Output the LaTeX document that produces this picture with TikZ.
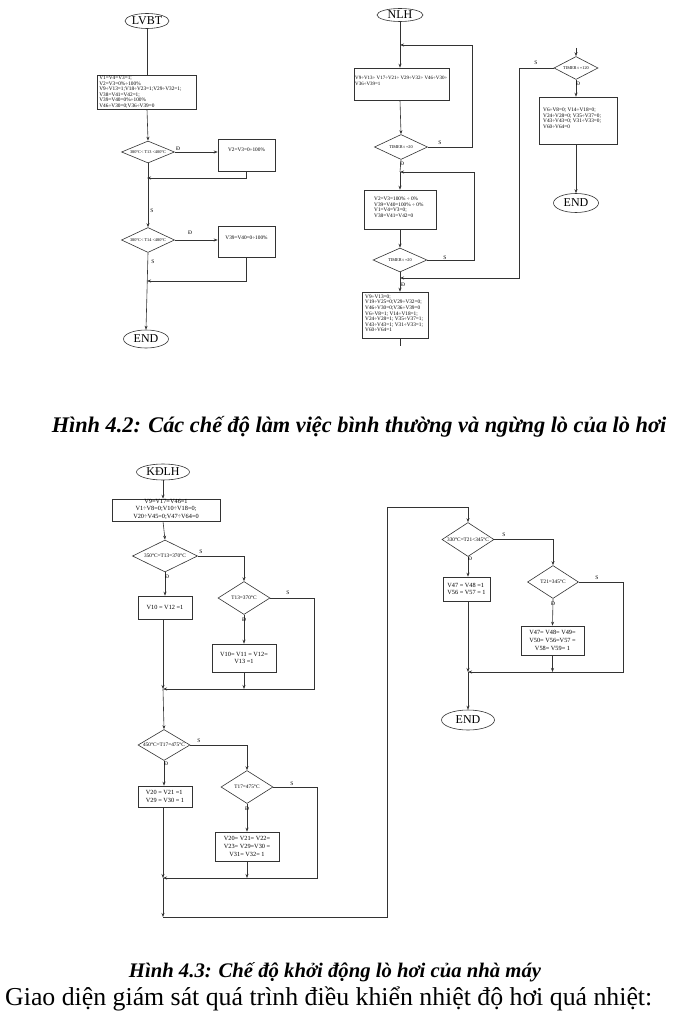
\documentclass[tikz,border=0pt]{standalone}
\usepackage{fontspec}
\setmainfont{Liberation Serif}
\usetikzlibrary{shapes.geometric,arrows.meta,calc}
\begin{document}
\begin{tikzpicture}[x=1pt,y=-1pt,
  ln/.style={draw=black!80,line width=0.6pt},
  arr/.style={ln,-{Stealth[length=4pt,width=3pt]}},
  box/.style={draw=black!80,line width=0.6pt,rectangle,inner sep=0pt},
  dia/.style={draw=black!80,line width=0.6pt,diamond,inner sep=0pt},
  term/.style={draw=black!80,line width=0.6pt,ellipse,inner sep=0pt,font=\fontsize{12}{12}\selectfont},
  tiny/.style={inner sep=0pt,font=\fontsize{5.3}{5.6}\selectfont,align=left},
  dtxt/.style={inner sep=0pt,font=\fontsize{4.3}{4.3}\selectfont},
  small/.style={inner sep=0pt,font=\fontsize{6.3}{7.6}\selectfont,align=center},
  smallL/.style={inner sep=0pt,font=\fontsize{6.3}{7.6}\selectfont,align=left},
  kdtxt/.style={inner sep=0pt,font=\fontsize{5.3}{5.3}\selectfont},
  lab/.style={inner sep=0pt,font=\fontsize{5.5}{5.5}\selectfont},
  captxt/.style={inner sep=0pt,font=\bfseries\itshape},
]
\fill[white] (0,0) rectangle (680,1016);
\useasboundingbox (0,0) rectangle (680,1016);

%================ LVBT =================
\node[term,minimum width=44pt,minimum height=15pt] (lvbt) at (147,21) {LVBT};
\node[box,minimum width=99pt,minimum height=34pt] (lb1) at (146.5,92) {};
\node[tiny,anchor=north west] (lb1t) at ($(lb1.north west)+(2.5,1)$) {V1=V4=V3=1;\\V2=V3=0\%÷100\%\\V9÷V13=1;V18÷V23=1;V29÷V32=1;\\V38=V41=V42=1;\\V39=V40=0\%÷100\%\\V46÷V30=0;V36÷V39=0};
\node[dia,minimum width=53pt,minimum height=22pt] (ld1) at (148,152) {};
\node[dtxt] (ld1t) at (ld1) {380°C< T13 <400°C};
\node[box,minimum width=57pt,minimum height=32pt] (lb2) at (246.5,155) {};
\node[tiny] (lb2t) at (246.5,150) {V2=V3=0÷100\%};
\coordinate (lj1) at (147,178);
\node[dia,minimum width=53pt,minimum height=25pt] (ld2) at (148,240) {};
\node[dtxt] (ld2t) at (ld2) {380°C< T14 <480°C};
\node[box,minimum width=57pt,minimum height=31pt] (lb3) at (246.5,241.5) {};
\node[tiny] (lb3t) at (246.5,238) {V39=V40=0÷100\%};
\coordinate (lj2) at (147,281);
\node[term,minimum width=45pt,minimum height=18pt] (lend) at (146,339) {END};

\draw[ln] (lvbt.south) -- (lvbt.south |- lb1.north);
\draw[arr] (lvbt.south |- lb1.south) -- (ld1.north);
\draw[arr] (ld1.east) -- (lb2.west |- ld1.east);
\draw[arr] (lb2.south) -- (lb2.south |- lj1) -- (lj1);
\draw[arr] (ld1.south) -- (ld2.north);
\draw[arr] (ld2.east) -- (lb3.west |- ld2.east);
\draw[arr] (lb3.south) -- (lb3.south |- lj2) -- (lj2);
\draw[arr] (ld2.south) -- (lend.north);
\node[lab] at (178,149) {Đ};
\node[lab] at (152,211) {S};
\node[lab] at (190,233) {Đ};
\node[lab] at (153,262) {S};

%================ NLH =================
\node[term,minimum width=46pt,minimum height=13pt] (nlh) at (400,15) {NLH};
\coordinate (nj1) at (400,45);
\node[box,minimum width=95pt,minimum height=32pt] (nb1) at (401.5,84) {};
\node[tiny,anchor=north west,font=\fontsize{5}{5.6}\selectfont] (nb1t) at (355,76) {V9÷V13÷ V17÷V21÷ V29÷V32÷ V46÷V30÷\\V36÷V39=1};
\node[dia,minimum width=53pt,minimum height=25pt] (nd1) at (401,147) {};
\node[dtxt] (nd1t) at (nd1) {TIMER t =20};
\coordinate (nj2) at (400,172);
\node[box,minimum width=72pt,minimum height=39pt] (nb2) at (400,209.5) {};
\node[tiny,anchor=north west] (nb2t) at (374,197) {V2=V3=100\% ÷ 0\%\\V39=V40=100\% ÷ 0\%\\V1=V4=V3=0;\\V38=V41=V42=0};
\node[dia,minimum width=54pt,minimum height=24pt] (nd2) at (400,260) {};
\node[dtxt] (nd2t) at (nd2) {TIMER t =20};
\coordinate (nj3) at (400,278);
\node[box,minimum width=66pt,minimum height=46pt] (nb3) at (395,315) {};
\node[tiny,anchor=north west] (nb3t) at (365,294.5) {V9÷V13=0;\\V19÷V25=0;V29÷V32=0;\\V46÷V30=0;V36÷V39=0\\V6÷V8=1; V14÷V18=1;\\V24÷V28=1; V35÷V37=1;\\V43÷V43=1; V31÷V33=1;\\V60÷V64=1};
\coordinate (nbot) at (400,346);

\node[dia,minimum width=44pt,minimum height=23pt] (nd3) at (576,68) {};
\node[dtxt] (nd3t) at (nd3) {TIMER t =120};
\coordinate (ntop) at (576,48);
\node[box,minimum width=78pt,minimum height=47pt] (nb4) at (578,120.5) {};
\node[tiny,anchor=north west] (nb4t) at (543,108) {V6÷V8=0; V14÷V18=0;\\V24÷V28=0; V35÷V37=0;\\V43÷V43=0; V31÷V33=0;\\V60÷V64=0};
\node[term,minimum width=45pt,minimum height=19pt] (nend) at (576,203) {END};

\draw[ln] (nlh.south) -- (nj1);
\draw[arr] (nj1) -- (nj1 |- nb1.north);
\draw[arr] (nj1 |- nb1.south) -- (nd1.north);
\draw[arr] (nd1.east) -- (472,147) -- (472,45) -- (nj1);
\draw[ln] (nd1.south) -- (nj2);
\draw[arr] (nj2) -- (nj2 |- nb2.north);
\draw[arr] (nb2.south) -- (nd2.north);
\draw[arr] (nd2.east) -- (474,260) -- (474,172) -- (nj2);
\draw[ln] (nd2.south) -- (nj3);
\draw[arr] (nj3) -- (nj3 |- nb3.north);
\draw[ln] (nj3 |- nb3.south) -- (nbot);
\draw[arr] (ntop) -- (nd3.north);
\draw[arr] (nd3.south) -- (nd3.south |- nb4.north);
\draw[arr] (nd3.south |- nb4.south) -- (nend.north);
\draw[arr] (nd3.west) -- (519,68) -- (519,278) -- (nj3);
\node[lab] at (440,143) {S};
\node[lab] at (402,164) {Đ};
\node[lab] at (445,258) {S};
\node[lab] at (403,285) {Đ};
\node[lab] at (536,63) {S};
\node[lab] at (578,84) {Đ};

%================ captions =================
\node[captxt,font=\fontsize{22.3}{22.3}\selectfont\bfseries\itshape] (cap1) at (359,427) {Hình 4.2: Các chế độ làm việc bình thường và ngừng lò của lò hơi};

%================ KĐLH =================
\node[term,minimum width=53pt,minimum height=16pt] (kdlh) at (163,472) {KĐLH};
\node[box,minimum width=108pt,minimum height=22pt] (kb1) at (166,510) {};
\node[small] (kb1t) at (166,509) {V9=V17=V46=1\\V1÷V8=0;V10÷V18=0;\\V20÷V45=0;V47÷V64=0};
\node[dia,minimum width=65pt,minimum height=32pt] (kd1) at (165,556) {};
\node[kdtxt] (kd1t) at (kd1) {350°C=T13=370°C};
\node[box,minimum width=54pt,minimum height=23pt] (kb2) at (165,607.5) {};
\node[small] (kb2t) at (kb2) {V10 = V12 =1};
\node[dia,minimum width=52pt,minimum height=33pt] (kd2) at (244,598) {};
\node[kdtxt] (kd2t) at (kd2) {T13=370°C};
\node[box,minimum width=64pt,minimum height=28pt] (kb3) at (244,658) {};
\node[small] (kb3t) at (kb3) {V10= V11 = V12=\\V13 =1};
\coordinate (kj1) at (163,689);
\node[dia,minimum width=52pt,minimum height=31pt] (kd3) at (164,745) {};
\node[kdtxt] (kd3t) at (kd3) {450°C=T17=475°C};
\node[box,minimum width=54pt,minimum height=21pt] (kb4) at (165,796.5) {};
\node[smallL] (kb4t) at (kb4) {V20 = V21 =1\\V29 = V30 = 1};
\node[dia,minimum width=52pt,minimum height=33pt] (kd4) at (247,787) {};
\node[kdtxt] (kd4t) at (kd4) {T17=475°C};
\node[box,minimum width=64pt,minimum height=29pt] (kb5) at (247,846.5) {};
\node[small] (kb5t) at (kb5) {V20= V21= V22=\\V23= V29=V30 =\\V31= V32= 1};
\coordinate (kj2) at (163,878);
\coordinate (kj3) at (163,917);

\node[dia,minimum width=52pt,minimum height=34pt] (kd5) at (468,539.5) {};
\node[kdtxt] (kd5t) at (kd5) {330°C=T21<345°C};
\node[box,minimum width=47pt,minimum height=24pt] (kb6) at (466.5,589) {};
\node[smallL] (kb6t) at (kb6) {V47 = V48 =1\\V56 = V57 = 1};
\node[dia,minimum width=51pt,minimum height=33pt] (kd6) at (553,582) {};
\node[kdtxt] (kd6t) at (kd6) {T21=345°C};
\node[box,minimum width=63pt,minimum height=29pt] (kb7) at (552.5,640.5) {};
\node[small] (kb7t) at (kb7) {V47= V48= V49=\\V50= V56=V57 =\\V58= V59= 1};
\coordinate (kj4) at (468,672);
\node[term,minimum width=53pt,minimum height=20pt] (kend) at (468,720) {END};

\draw[arr] (kdlh.south) -- (kdlh.south |- kb1.north);
\draw[arr] (kdlh.south |- kb1.south) -- (kd1.north);
\draw[arr] (kd1.east) -- (kd1.east -| kd2.north) -- (kd2.north);
\draw[arr] (kd1.south) -- (kd1.south |- kb2.north);
\draw[arr] (kd2.south) -- (kb3.north);
\draw[arr] (kd2.east) -- (314,598) -- (314,689) -- (kj1);
\draw[arr] (kb3.south) -- (kb3.south |- kj1);
\draw[arr] (kj1 |- kb2.south) -- (kj1);
\draw[arr] (kj1) -- (kd3.north);
\draw[arr] (kd3.east) -- (kd3.east -| kd4.north) -- (kd4.north);
\draw[arr] (kd3.south) -- (kd3.south |- kb4.north);
\draw[arr] (kd4.south) -- (kb5.north);
\draw[arr] (kd4.east) -- (317,787) -- (317,878) -- (kj2);
\draw[arr] (kb5.south) -- (kb5.south |- kj2);
\draw[arr] (kj2 |- kb4.south) -- (kj2);
\draw[arr] (kj2) -- (kj3);
\draw[arr] (kj3) -- (387,917) -- (387,507) -- (468,507) -- (kd5.north);
\draw[arr] (kd5.east) -- (kd5.east -| kd6.north) -- (kd6.north);
\draw[arr] (kd5.south) -- (kd5.south |- kb6.north);
\draw[arr] (kd6.south) -- (kb7.north);
\draw[arr] (kd6.east) -- (623,582) -- (623,672) -- (kj4);
\draw[arr] (kb7.south) -- (kb7.south |- kj4);
\draw[arr] (kj4 |- kb6.south) -- (kj4);
\draw[arr] (kj4) -- (kend.north);

\node[lab] at (201,552) {S};
\node[lab] at (167,577) {Đ};
\node[lab] at (288,593) {S};
\node[lab] at (244,620) {Đ};
\node[lab] at (199,741) {S};
\node[lab] at (166,764) {Đ};
\node[lab] at (292,784) {S};
\node[lab] at (247,809) {Đ};
\node[lab] at (504,535) {S};
\node[lab] at (470,559) {Đ};
\node[lab] at (597,578) {S};
\node[lab] at (553,604) {Đ};

\node[captxt,font=\fontsize{20.7}{20.7}\selectfont\bfseries\itshape] (cap2) at (335,972) {Hình 4.3: Chế độ khởi động lò hơi của nhà máy};
\node[inner sep=0pt,anchor=west,font=\fontsize{25.8}{25.8}\selectfont] (body) at (5,999) {Giao diện giám sát quá trình điều khiển nhiệt độ hơi quá nhiệt:};
\end{tikzpicture}
\end{document}
